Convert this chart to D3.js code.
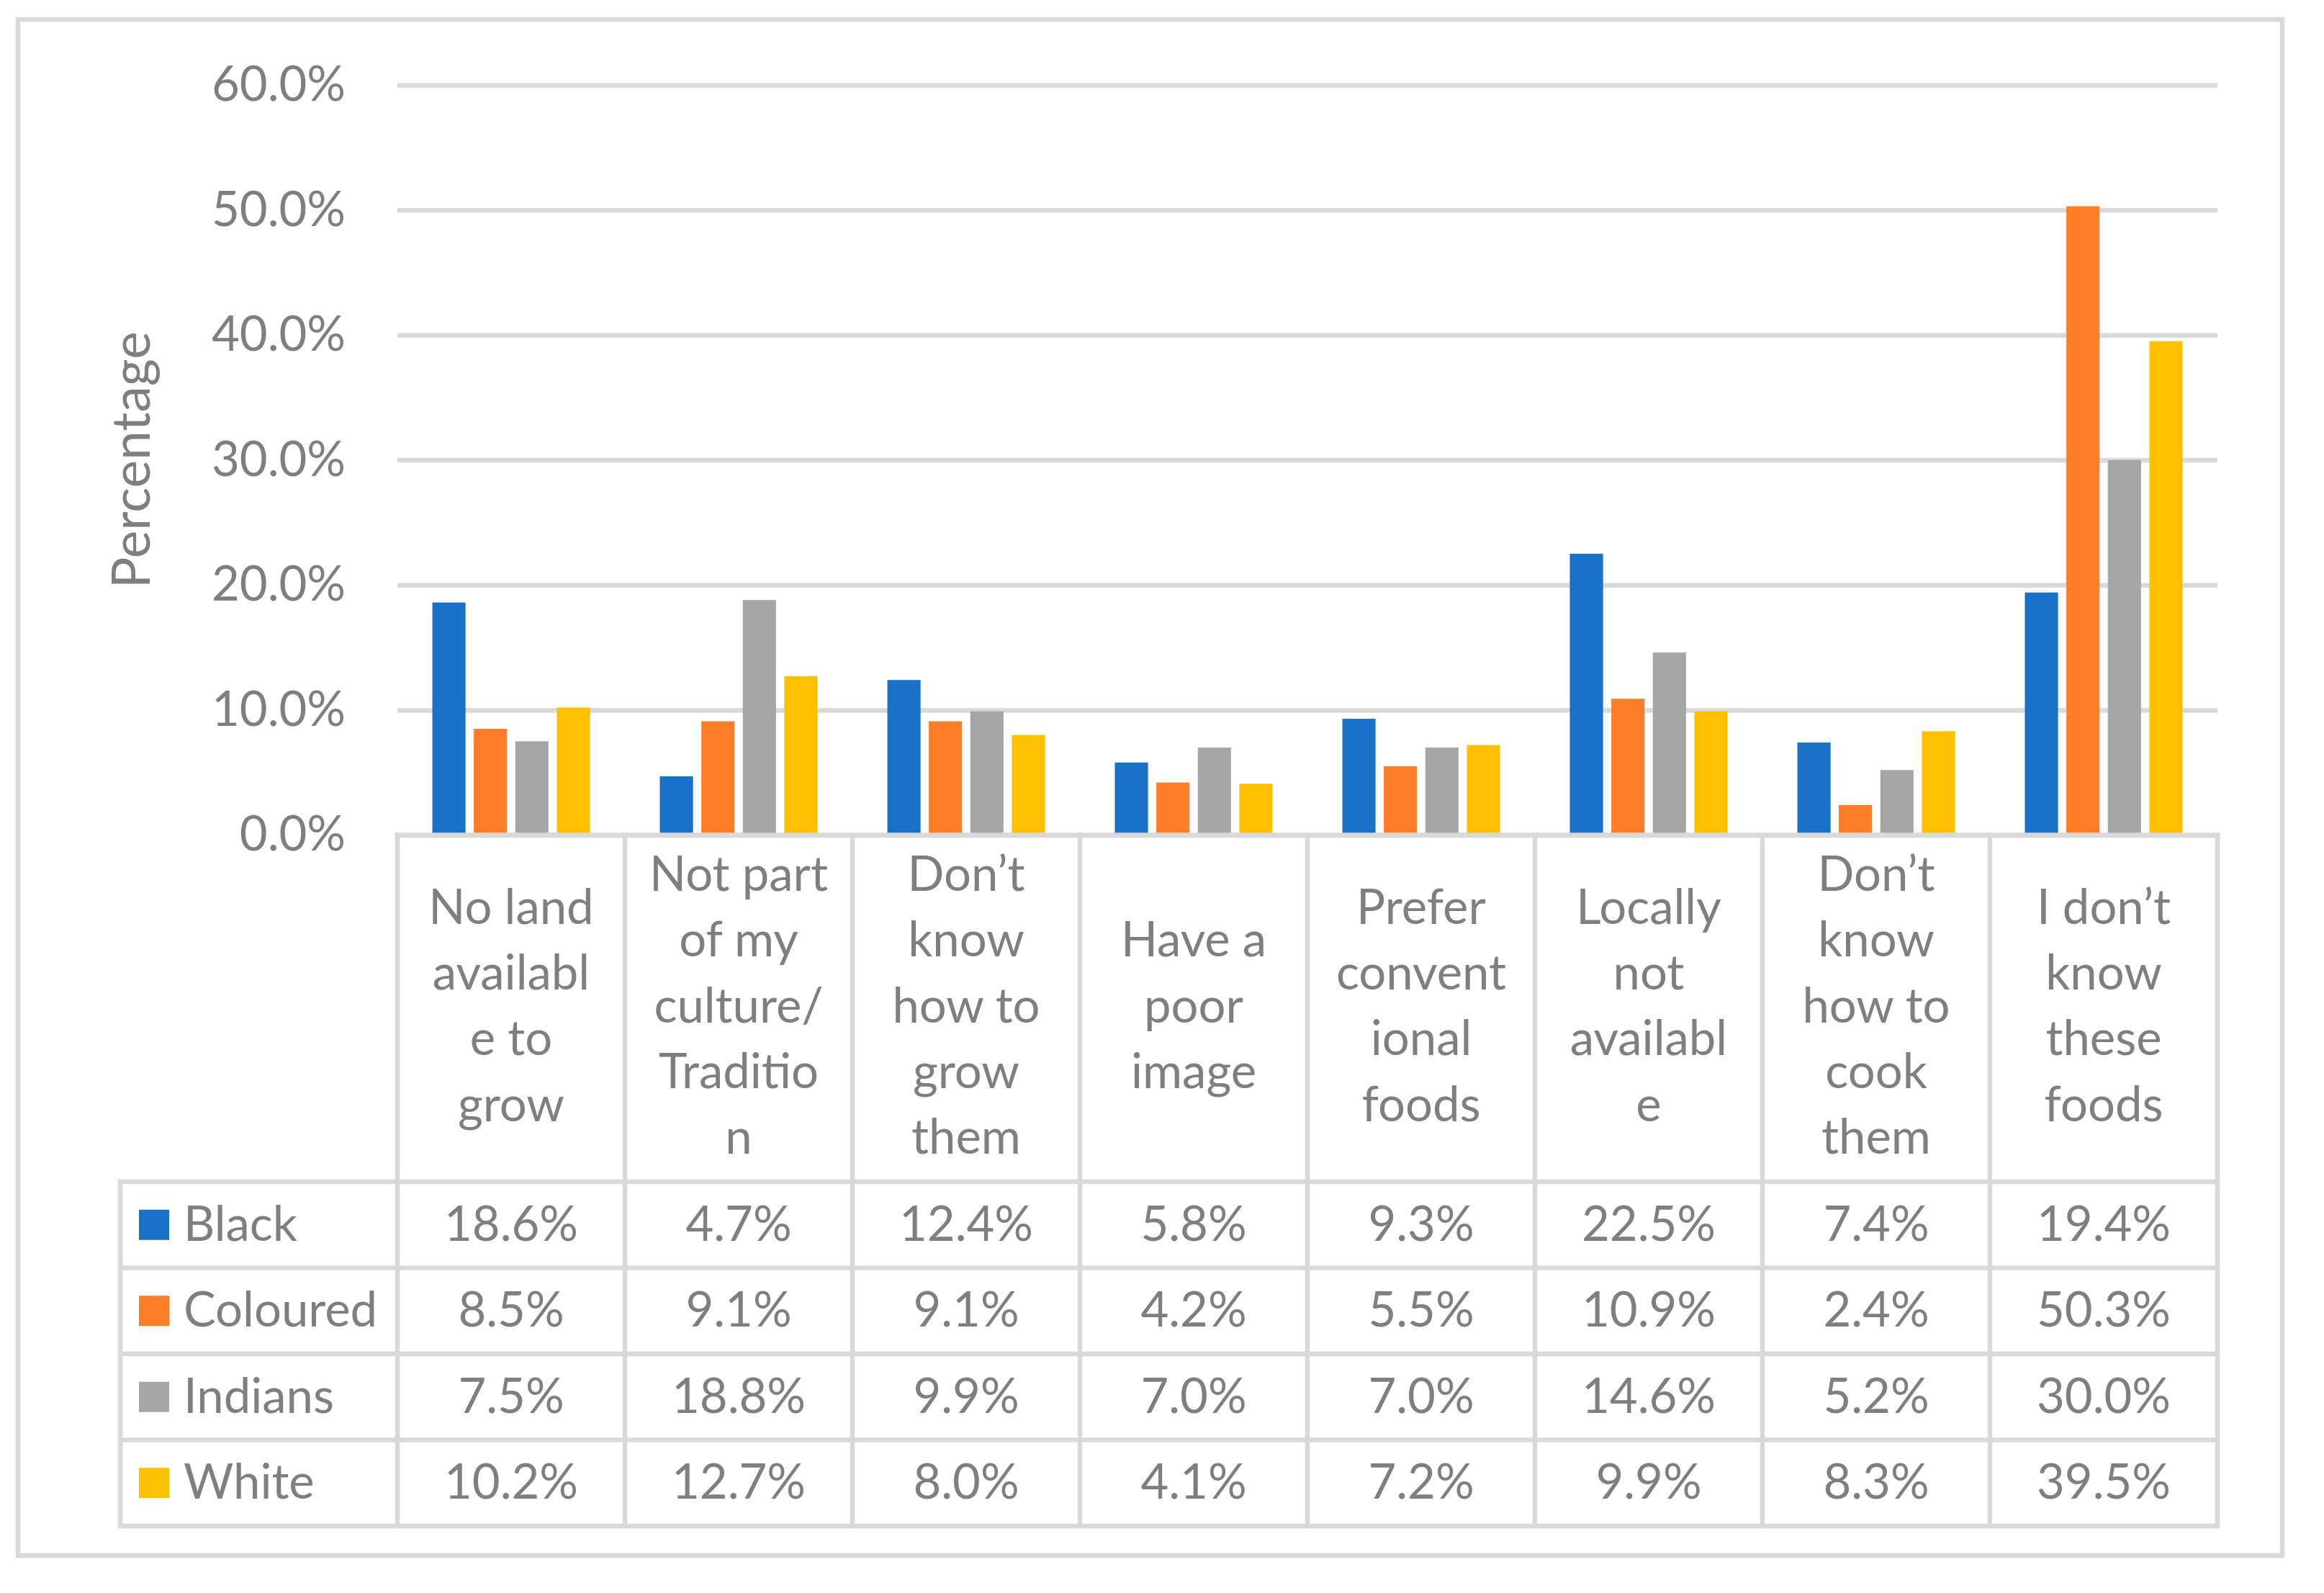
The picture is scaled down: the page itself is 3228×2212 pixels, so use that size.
<!DOCTYPE html>
<html>
<head>
<meta charset="utf-8">
<script src="https://cdn.jsdelivr.net/npm/d3@7"></script>
<style>
  body { margin: 0; background: #fff; }
  text { font-family: Lato, "Open Sans", sans-serif; fill: #7f7f7f; }
</style>
</head>
<body>
<svg width="3228" height="2212"></svg>
<script>
'use strict';

// categories, already broken into the lines the table header shows
const categories = ["No land", "Not part", "Don't grow", "Have a", "Prefer", "Locally", "Don't cook", "I don't"];
const categoryLines = [
    ["No land", "availabl", "e to", "grow"],
    ["Not part", "of my", "culture/", "Traditio", "n"],
    ["Don’t", "know", "how to", "grow", "them"],
    ["Have a", "poor", "image"],
    ["Prefer", "convent", "ional", "foods"],
    ["Locally", "not", "availabl", "e"],
    ["Don’t", "know", "how to", "cook", "them"],
    ["I don’t", "know", "these", "foods"]
];
const series = ["Black", "Coloured", "Indians", "White"];
const black    = [18.6, 4.7, 12.4, 5.8, 9.3, 22.5, 7.4, 19.4];
const coloured = [8.5, 9.1, 9.1, 4.2, 5.5, 10.9, 2.4, 50.3];
const indians  = [7.5, 18.8, 9.9, 7.0, 7.0, 14.6, 5.2, 30.0];
const white    = [10.2, 12.7, 8.0, 4.1, 7.2, 9.9, 8.3, 39.5];
const yTicks = [0, 10, 20, 30, 40, 50, 60];

const values = [black, coloured, indians, white];
const colors = ["#1971c8", "#fe7e28", "#a6a6a6", "#ffc000"];
const lineColor = "#d9d9d9";
const lw = 6.5;
const fs = 67;

const svg = d3.select("svg");

const plotLeft = 552, plotRight = 3080, plotTop = 118, zero = 1159.5;
const tableTop = 1641, rowH = 119.5, tableLeft = 167;

const x0 = d3.scaleBand().domain(categories).range([plotLeft, plotRight]);
const x1 = d3.scaleBand().domain(series)
    .range([x0.bandwidth()/2 - 109.5, x0.bandwidth()/2 + 109.5])
    .paddingInner(0.2);
const y = d3.scaleLinear().domain([0, 60]).range([zero, plotTop]);

// outer frame
svg.append("rect")
    .attr("x", 25).attr("y", 27)
    .attr("width", 3170 - 25).attr("height", 2160 - 27)
    .attr("fill", "none")
    .attr("stroke", lineColor)
    .attr("stroke-width", lw);

// gridlines
const grid = svg.append("g")
    .attr("transform", `translate(${plotLeft},0)`)
    .call(d3.axisLeft(y).tickValues(yTicks).tickSize(-(plotRight - plotLeft)).tickFormat(""));
grid.select(".domain").remove();
grid.selectAll("line").attr("stroke", lineColor).attr("stroke-width", lw);

// y tick labels
const yAxis = svg.append("g")
    .attr("transform", `translate(${plotLeft},0)`)
    .call(d3.axisLeft(y).tickValues(yTicks).tickSize(0).tickPadding(72)
        .tickFormat(d => d.toFixed(1) + "%"));
yAxis.select(".domain").remove();
yAxis.selectAll("text")
    .attr("font-size", fs)
    .attr("fill", "#7f7f7f")
    .style("font-family", "Lato, sans-serif");

svg.append("text")
    .attr("transform", `translate(208,${(plotTop + zero) / 2}) rotate(-90)`)
    .attr("text-anchor", "middle")
    .attr("font-size", 73)
    .text("Percentage");

// bars
const groups = svg.append("g").selectAll("g")
    .data(categories)
    .join("g")
    .attr("transform", d => `translate(${x0(d)},0)`);

groups.selectAll("rect")
    .data((d, i) => series.map((s, j) => ({s: s, v: values[j][i], c: colors[j]})))
    .join("rect")
    .attr("x", d => x1(d.s))
    .attr("width", x1.bandwidth())
    .attr("y", d => y(d.v))
    .attr("height", d => y(0) - y(d.v))
    .attr("fill", d => d.c);

// data table
const tableBottom = tableTop + rowH * series.length;
const tbl = svg.append("g")
    .attr("stroke", lineColor)
    .attr("stroke-width", lw)
    .attr("stroke-linecap", "square");

// top of header (the axis line)
tbl.append("line")
    .attr("x1", plotLeft).attr("x2", plotRight)
    .attr("y1", zero).attr("y2", zero);
// row lines
tbl.selectAll(".row")
    .data(d3.range(series.length + 1))
    .join("line")
    .attr("class", "row")
    .attr("x1", tableLeft).attr("x2", plotRight)
    .attr("y1", d => tableTop + d * rowH)
    .attr("y2", d => tableTop + d * rowH);
// column lines
tbl.selectAll(".col")
    .data(categories.concat(["end"]))
    .join("line")
    .attr("class", "col")
    .attr("x1", (d, i) => plotLeft + i * x0.bandwidth())
    .attr("x2", (d, i) => plotLeft + i * x0.bandwidth())
    .attr("y1", zero).attr("y2", tableBottom);
tbl.append("line")
    .attr("x1", tableLeft).attr("x2", tableLeft)
    .attr("y1", tableTop).attr("y2", tableBottom);

// header labels
const lineH = 91.3;
const headMid = (zero + tableTop) / 2 + 19.5;
svg.append("g").selectAll("text")
    .data(categories)
    .join("text")
    .attr("text-anchor", "middle")
    .attr("font-size", fs)
    .each(function(d, i) {
        const lines = categoryLines[i];
        d3.select(this).selectAll("tspan")
            .data(lines)
            .join("tspan")
            .attr("x", x0(d) + x0.bandwidth() / 2)
            .attr("y", (l, k) => headMid + (k - (lines.length - 1) / 2) * lineH)
            .text(l => l);
    });

// legend cells
const legendRows = svg.append("g").selectAll("g")
    .data(series)
    .join("g")
    .attr("transform", (d, j) => `translate(0,${tableTop + j * rowH + rowH / 2})`);
legendRows.append("rect")
    .attr("x", 193).attr("y", -21)
    .attr("width", 42).attr("height", 42)
    .attr("fill", (d, j) => colors[j]);
legendRows.append("text")
    .attr("x", 255).attr("dy", 22)
    .attr("font-size", fs)
    .text(d => d);

// values in table
legendRows.selectAll(".val")
    .data((d, j) => values[j])
    .join("text")
    .attr("class", "val")
    .attr("x", (v, i) => x0(categories[i]) + x0.bandwidth() / 2)
    .attr("dy", 22)
    .attr("text-anchor", "middle")
    .attr("font-size", fs)
    .text(v => v.toFixed(1) + "%");
</script>
</body>
</html>
